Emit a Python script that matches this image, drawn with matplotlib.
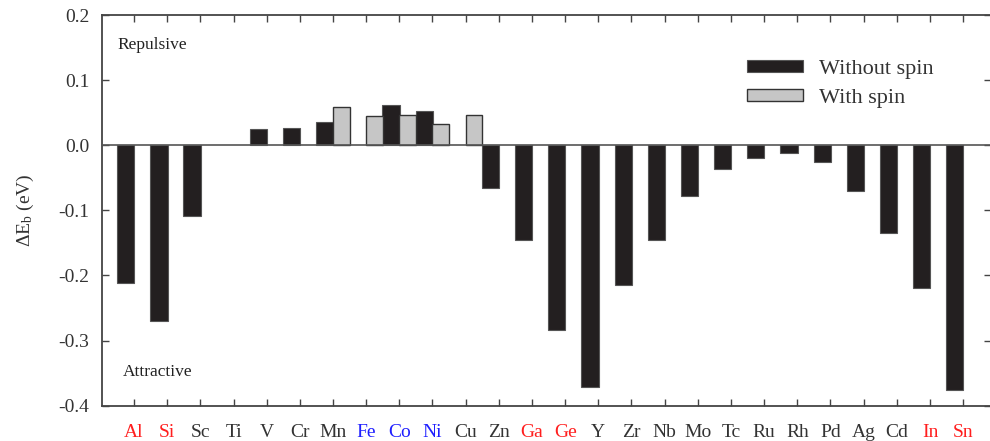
import numpy as np
import matplotlib
matplotlib.use("Agg")
import matplotlib.pyplot as plt
from matplotlib.ticker import FixedLocator

plt.rcParams['font.family'] = ['Liberation Serif', 'DejaVu Serif']
plt.rcParams['mathtext.fontset'] = 'custom'
plt.rcParams['mathtext.rm'] = 'Liberation Serif'
plt.rcParams['mathtext.it'] = 'Liberation Serif:italic'

nan = np.nan
elements = ['Al', 'Si', 'Sc', 'Ti', 'V', 'Cr', 'Mn', 'Fe', 'Co', 'Ni', 'Cu', 'Zn', 'Ga',
            'Ge', 'Y', 'Zr', 'Nb', 'Mo', 'Tc', 'Ru', 'Rh', 'Pd', 'Ag', 'Cd', 'In', 'Sn']
without_spin = [-0.212, -0.270, -0.108, nan, 0.025, 0.027, 0.035, nan, 0.062, 0.052, nan,
                -0.065, -0.146, -0.284, -0.371, -0.215, -0.146, -0.078, -0.037, -0.019,
                -0.012, -0.026, -0.071, -0.135, -0.220, -0.376]
with_spin = [nan, nan, nan, nan, nan, nan, 0.059, 0.045, 0.046, 0.032, 0.046,
             nan, nan, nan, nan, nan, nan, nan, nan, nan, nan, nan, nan, nan, nan, nan]
red_labels = ['Al', 'Si', 'Ga', 'Ge', 'In', 'Sn']
blue_labels = ['Fe', 'Co', 'Ni']
yticks = [0.2, 0.1, 0.0, -0.1, -0.2, -0.3, -0.4]

W, H = 990, 441
fig = plt.figure(figsize=(W / 100, H / 100), dpi=100)
ax = fig.add_axes([102 / W, 1 - 405.7 / H, (991 - 102) / W, (405.7 - 15) / H])

x = np.arange(len(elements))
spine_c = '#444444'
ax.bar(x - 0.25, without_spin, width=0.52, color='#231f20', edgecolor='#555555',
       linewidth=0.8, label='Without spin', zorder=3)
ax.bar(x + 0.25, with_spin, width=0.5, color='#c6c6c6', edgecolor='#333333',
       linewidth=1.0, label='With spin', zorder=3)
ax.axhline(0, color='#555555', lw=1.2, zorder=4)

ax.set_xlim(-0.965, 25.84)
ax.set_ylim(-0.4, 0.2)
ax.set_xticks(x)
ax.set_xticklabels(elements)
ax.yaxis.set_major_locator(FixedLocator(yticks))
ax.set_yticklabels(['%.1f' % v for v in yticks])

for lab in ax.get_xticklabels():
    t = lab.get_text()
    if t in red_labels:
        lab.set_color('#ff1f1f')
    elif t in blue_labels:
        lab.set_color('#1f1fff')
    else:
        lab.set_color('#333333')
for lab in ax.get_yticklabels():
    lab.set_color('#333333')

ax.tick_params(axis='x', direction='in', top=True, bottom=True, length=5, width=1.0,
               color=spine_c, labelsize=14, pad=13)
ax.tick_params(axis='y', direction='in', left=True, right=True, length=5, width=1.0,
               color=spine_c, labelsize=14, pad=9)
for s in ax.spines.values():
    s.set_color(spine_c)
    s.set_linewidth(1.3)

ax.set_ylabel('ΔE$_\\mathrm{b}$ (eV)', fontsize=14, color='#333333', labelpad=16)

ax.text(117 / W, 1 - 45 / H, 'Repulsive', transform=fig.transFigure, fontsize=12.5,
        color='#222222', va='center', ha='left')
ax.text(123 / W, 1 - 371.7 / H, 'Attractive', transform=fig.transFigure, fontsize=12.5,
        color='#222222', va='center', ha='left')

leg = ax.legend(loc='upper left', bbox_to_anchor=(746.7 / W, 1 - 60 / H),
                bbox_transform=fig.transFigure, frameon=False, fontsize=16,
                handlelength=2.55, handleheight=0.45, handletextpad=0.7,
                labelspacing=0.45, borderpad=0, borderaxespad=0)
for t in leg.get_texts():
    t.set_color('#333333')

fig.savefig('out.png', dpi=100)
